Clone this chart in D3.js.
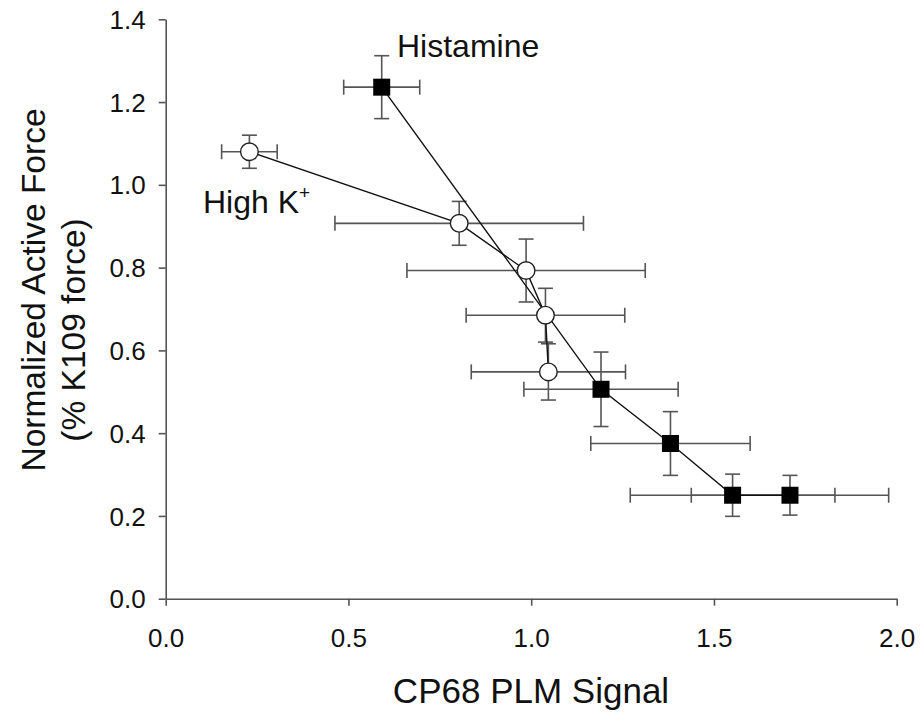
<!DOCTYPE html>
<html>
<head>
<meta charset="utf-8">
<script src="https://cdn.jsdelivr.net/npm/d3@7"></script>
<style>
  html, body { margin: 0; padding: 0; background: #fff; }
  svg { display: block; font-family: "Liberation Sans", Arial, sans-serif; }
</style>
</head>
<body>
<svg id="chart" width="921" height="715"></svg>
<script>
// ---- Data ----
const histX    = [0.591, 1.191, 1.381, 1.551, 1.708];
const histY    = [1.236, 0.506, 0.375, 0.250, 0.250];
const histXErr = [0.104, 0.211, 0.218, 0.280, 0.270];
const histYErr = [0.076, 0.090, 0.077, 0.051, 0.048];

const kX    = [0.229, 0.803, 0.986, 1.039, 1.047];
const kY    = [1.080, 0.907, 0.793, 0.685, 0.548];
const kXErr = [0.076, 0.340, 0.326, 0.217, 0.211];
const kYErr = [0.040, 0.053, 0.076, 0.065, 0.068];

const xTicks = [0.0, 0.5, 1.0, 1.5, 2.0];
const yTicks = [0.0, 0.2, 0.4, 0.6, 0.8, 1.0, 1.2, 1.4];

// ---- Layout ----
const svg = d3.select("#chart");
const x = d3.scaleLinear().domain([0, 2]).range([165.7, 896.7]);
const y = d3.scaleLinear().domain([0, 1.4]).range([598.7, 19.3]);
const axisColor = "#555";
const barColor = "#555";
const cap = 7.5;

// Axes
const gx = svg.append("g").attr("transform", `translate(0,${y(0)})`)
  .call(d3.axisBottom(x).tickValues(xTicks).tickFormat(d3.format(".1f")).tickSizeOuter(0).tickSizeInner(7).tickPadding(23));
const gy = svg.append("g").attr("transform", `translate(${x(0)},0)`)
  .call(d3.axisLeft(y).tickValues(yTicks).tickFormat(d3.format(".1f")).tickSizeOuter(0).tickSizeInner(7).tickPadding(13));
[gx, gy].forEach(g => {
  g.select(".domain").attr("stroke", axisColor).attr("stroke-width", 1.6);
  g.selectAll(".tick line").attr("stroke", axisColor).attr("stroke-width", 1.6);
  g.selectAll(".tick text").attr("fill", "#111").style("font-size", "26px")
    .style("font-family", "'Liberation Sans', Arial, sans-serif");
});
gy.selectAll(".tick text").attr("dy", "0.35em");
gx.selectAll(".tick text").attr("dy", "0.71em");

// Error bars
function errorBars(xs, ys, xe, ye) {
  const g = svg.append("g").attr("stroke", barColor).attr("stroke-width", 1.6).attr("fill", "none");
  xs.forEach((xv, i) => {
    const cx = x(xv), cy = y(ys[i]);
    const x0 = x(xv - xe[i]), x1 = x(xv + xe[i]);
    const y0 = y(ys[i] - ye[i]), y1 = y(ys[i] + ye[i]);
    g.append("line").attr("x1", x0).attr("x2", x1).attr("y1", cy).attr("y2", cy);
    g.append("line").attr("x1", x0).attr("x2", x0).attr("y1", cy - cap).attr("y2", cy + cap);
    g.append("line").attr("x1", x1).attr("x2", x1).attr("y1", cy - cap).attr("y2", cy + cap);
    g.append("line").attr("x1", cx).attr("x2", cx).attr("y1", y0).attr("y2", y1);
    g.append("line").attr("x1", cx - cap).attr("x2", cx + cap).attr("y1", y0).attr("y2", y0);
    g.append("line").attr("x1", cx - cap).attr("x2", cx + cap).attr("y1", y1).attr("y2", y1);
  });
}
errorBars(kX, kY, kXErr, kYErr);
errorBars(histX, histY, histXErr, histYErr);

// Connecting lines
const line = d3.line().x(d => x(d[0])).y(d => y(d[1]));
svg.append("path").datum(kX.map((v, i) => [v, kY[i]]))
  .attr("d", line).attr("fill", "none").attr("stroke", "#111").attr("stroke-width", 1.4);
svg.append("path").datum(histX.map((v, i) => [v, histY[i]]))
  .attr("d", line).attr("fill", "none").attr("stroke", "#111").attr("stroke-width", 1.4);

// Markers
svg.append("g").selectAll("circle").data(kX.map((v, i) => [v, kY[i]])).join("circle")
  .attr("cx", d => x(d[0])).attr("cy", d => y(d[1])).attr("r", 8.8)
  .attr("fill", "#fff").attr("stroke", "#222").attr("stroke-width", 1.4);
const sq = 17;
svg.append("g").selectAll("rect").data(histX.map((v, i) => [v, histY[i]])).join("rect")
  .attr("x", d => x(d[0]) - sq / 2).attr("y", d => y(d[1]) - sq / 2)
  .attr("width", sq).attr("height", sq).attr("fill", "#000");

// Series labels
svg.append("text").attr("x", 397).attr("y", 57).style("font-size", "32px").attr("fill", "#111").text("Histamine");
const kt = svg.append("text").attr("x", 203).attr("y", 213).style("font-size", "32px").attr("fill", "#111");
kt.append("tspan").text("High K");
kt.append("tspan").attr("dy", -14).style("font-size", "19px").text("+");

// Axis titles
svg.append("text").attr("x", 531).attr("y", 703).attr("text-anchor", "middle")
  .style("font-size", "35px").attr("fill", "#111").text("CP68 PLM Signal");
svg.append("text").attr("transform", "translate(45,290) rotate(-90)").attr("text-anchor", "middle")
  .style("font-size", "33.5px").attr("fill", "#111").text("Normalized Active Force");
svg.append("text").attr("transform", "translate(85,330) rotate(-90)").attr("text-anchor", "middle")
  .style("font-size", "33.5px").attr("fill", "#111").text("(% K109 force)");
</script>
</body>
</html>
